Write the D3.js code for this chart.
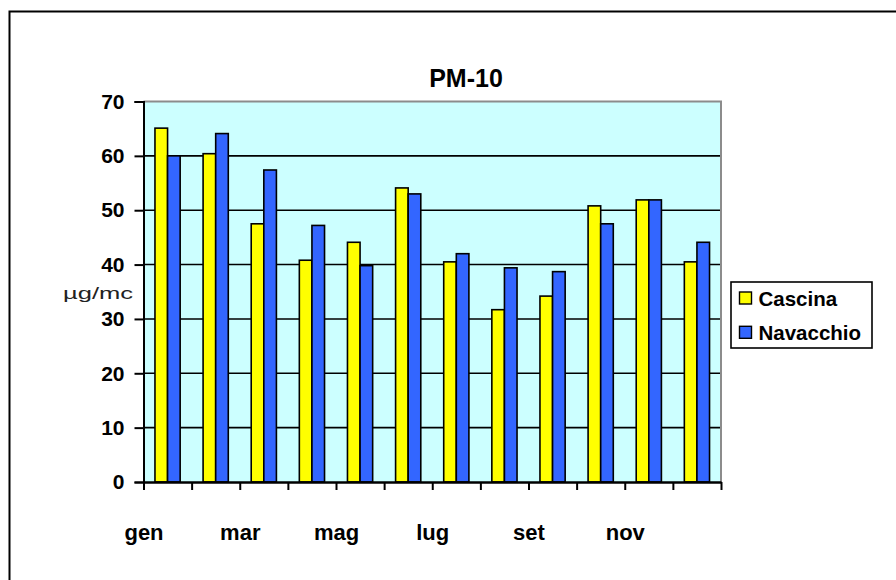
<!DOCTYPE html>
<html>
<head>
<meta charset="utf-8">
<script src="https://cdn.jsdelivr.net/npm/d3@7/dist/d3.min.js"></script>
<style>
  html, body { margin: 0; padding: 0; background: #fff; }
  svg { display: block; font-family: "Liberation Sans", Arial, sans-serif; }
</style>
</head>
<body>
<div id="chart"></div>
<script>
// Monthly PM-10 averages (µg/mc) at two monitoring stations
const months = ["gen", "feb", "mar", "apr", "mag", "giu", "lug", "ago", "set", "ott", "nov", "dic"];
const seriesNames = ["Cascina", "Navacchio"];
const cascina   = [65.1, 60.4, 47.5, 40.8, 44.1, 54.1, 40.5, 31.7, 34.2, 50.8, 51.9, 40.5];
const navacchio = [60.0, 64.1, 57.4, 47.2, 39.8, 53.0, 42.0, 39.4, 38.7, 47.5, 51.9, 44.1];
const yTicks = [0, 10, 20, 30, 40, 50, 60, 70];
const seriesColors = ["#ffff00", "#3366ff"];

const W = 896, H = 580;
const plot = { left: 143.5, right: 721, top: 101.5, bottom: 482 };

const svg = d3.select("#chart").append("svg")
  .attr("width", W).attr("height", H);

// outer chart frame
svg.append("rect")
  .attr("x", 9.5).attr("y", 11.5)
  .attr("width", W + 20).attr("height", H + 20)
  .attr("fill", "none").attr("stroke", "#000").attr("stroke-width", 2);

const x = d3.scaleBand().domain(months).range([plot.left, plot.right]).padding(0);
const x1 = d3.scaleBand().domain(seriesNames).range([0, x.bandwidth()])
  .paddingInner(0).paddingOuter(0.91);
const xb = d3.scaleLinear().domain([0, months.length]).range([plot.left, plot.right]);
const y = d3.scaleLinear().domain([0, 70]).range([plot.bottom, plot.top]);

// plot area background
svg.append("rect")
  .attr("x", plot.left).attr("y", plot.top)
  .attr("width", plot.right - plot.left).attr("height", plot.bottom - plot.top)
  .attr("fill", "#ccffff");

// gridlines
svg.append("g").selectAll("line")
  .data(yTicks.filter(v => v > 0 && v < 70))
  .join("line")
  .attr("x1", plot.left).attr("x2", plot.right)
  .attr("y1", d => y(d)).attr("y2", d => y(d))
  .attr("stroke", "#000").attr("stroke-width", 1.6);

// plot area border (top and right in gray)
svg.append("path")
  .attr("d", `M${plot.left},${plot.top}H${plot.right}V${plot.bottom}`)
  .attr("fill", "none").attr("stroke", "#8c8c8c").attr("stroke-width", 2);

// bars
const rows = months.map((m, i) => ({ month: m, values: [cascina[i], navacchio[i]] }));
svg.append("g").selectAll("g")
  .data(rows)
  .join("g")
  .attr("transform", d => `translate(${x(d.month)},0)`)
  .selectAll("rect")
  .data(d => d.values.map((v, k) => ({ name: seriesNames[k], value: v, k })))
  .join("rect")
  .attr("x", d => x1(d.name))
  .attr("y", d => y(d.value))
  .attr("width", x1.bandwidth())
  .attr("height", d => y(0) - y(d.value))
  .attr("fill", d => seriesColors[d.k])
  .attr("stroke", "#000").attr("stroke-width", 1.6);

// y axis
const yAxis = svg.append("g")
  .attr("transform", `translate(${plot.left},0)`)
  .call(d3.axisLeft(y).tickValues(yTicks).tickSize(9).tickPadding(10));
yAxis.select(".domain").attr("stroke-width", 2);
yAxis.selectAll(".tick line").attr("stroke-width", 2);
yAxis.selectAll(".tick text")
  .attr("font-size", 21).attr("font-weight", "bold").attr("fill", "#000")
  .attr("font-family", "Liberation Sans, Arial, sans-serif");

// x axis: ticks on category boundaries, labels on alternate boundaries
const xAxis = svg.append("g")
  .attr("transform", `translate(0,${plot.bottom})`)
  .call(d3.axisBottom(xb)
    .tickValues(d3.range(months.length + 1))
    .tickSize(8).tickSizeOuter(0).tickPadding(34)
    .tickFormat(i => (i % 2 === 0 && i < months.length) ? months[i] : ""));
xAxis.select(".domain").attr("stroke-width", 2.4);
xAxis.selectAll(".tick line").attr("stroke-width", 2);
xAxis.selectAll(".tick text")
  .attr("font-size", 22).attr("font-weight", "bold").attr("fill", "#000")
  .attr("font-family", "Liberation Sans, Arial, sans-serif");

// title
svg.append("text")
  .attr("x", 466).attr("y", 86.5)
  .attr("text-anchor", "middle")
  .attr("font-size", 25).attr("font-weight", "bold")
  .text("PM-10");

// unit label
svg.append("text")
  .attr("x", 63).attr("y", 299)
  .attr("font-size", 17).attr("fill", "#222")
  .attr("textLength", 70).attr("lengthAdjust", "spacingAndGlyphs")
  .text("µg/mc");

// legend
const legend = svg.append("g").attr("transform", "translate(731,282)");
legend.append("rect")
  .attr("width", 141).attr("height", 66)
  .attr("fill", "#fff").attr("stroke", "#000").attr("stroke-width", 1.6);
const items = legend.selectAll("g.item")
  .data(seriesNames)
  .join("g").attr("class", "item")
  .attr("transform", (d, i) => `translate(8.5,${10 + i * 34.3})`);
items.append("rect")
  .attr("width", 12).attr("height", 12)
  .attr("fill", (d, i) => seriesColors[i])
  .attr("stroke", "#000").attr("stroke-width", 1.4);
items.append("text")
  .attr("x", 19).attr("y", 13.5)
  .attr("font-size", 20.5).attr("font-weight", "bold")
  .text(d => d);
</script>
</body>
</html>
